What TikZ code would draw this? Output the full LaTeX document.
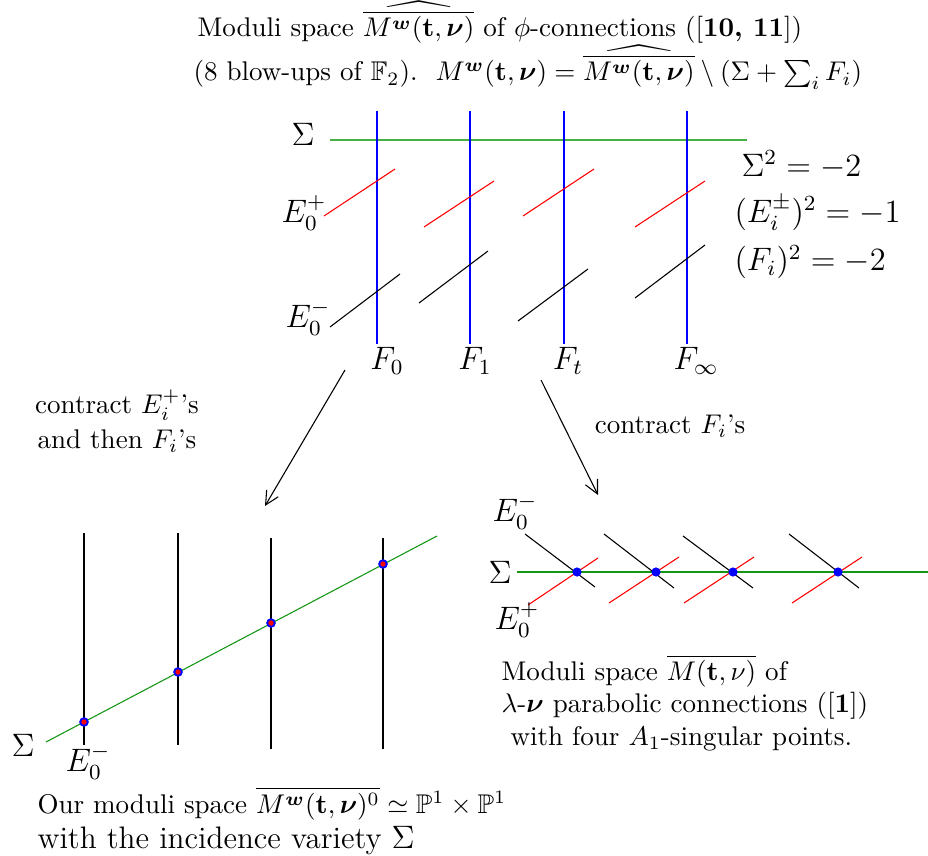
\documentclass[tikz,border=0pt]{standalone}
\usepackage{amsmath,amssymb}
\usepackage{tikz}
\usetikzlibrary{arrows.meta}
\usepackage{xcolor}
\definecolor{sigmagreen}{RGB}{70,175,70}
\definecolor{curvegreen}{RGB}{20,150,20}

\newcommand{\Mwt}{M^{\boldsymbol{w}}(\mathbf{t},\boldsymbol{\nu})}

\begin{document}
\begin{tikzpicture}[x=0.37pt, y=-0.37pt, >={Straight Barb[length=5pt,width=5pt]}, every node/.style={inner sep=0pt}]
\useasboundingbox (0,0) rectangle (928,856);
% header
\node[anchor=base west] (head1) at (197,37) {Moduli space $\widehat{\overline{\Mwt}}$ of $\phi$-connections ([\textbf{10, 11}])};
\node[anchor=base west] (head2) at (193,81) {(8 blow-ups of $\mathbb{F}_2$).\ \ $\Mwt=\widehat{\overline{\Mwt}}\setminus(\Sigma+\sum_i F_i)$};

% the blown-up surface
\draw[sigmagreen, semithick] (330,140) -- (747,140);
\draw[blue] (377,111) -- (377,344);
\draw[blue] (470,111) -- (470,344);
\draw[blue] (564,111) -- (564,344);
\draw[blue] (687,111) -- (687,344);
\draw[red] (324,216) -- (395,169);
\draw[red] (424,227) -- (494,181);
\draw[red] (523,216) -- (594,169);
\draw[red] (635,227) -- (705,181);
\draw (330,327) -- (400,274);
\draw (419,303) -- (488,251);
\draw (518,321) -- (588,269);
\draw (635,298) -- (705,245);
\node[font=\large] (sig) at (303,134) {$\Sigma$};
\node[font=\large] (ep) at (304,213) {$E_0^+$};
\node[font=\large] (em) at (308,318) {$E_0^-$};
\node[font=\large] (f0) at (387,361) {$F_0$};
\node[font=\large] (f1) at (475,361) {$F_1$};
\node[font=\large] (ft) at (568,361) {$F_t$};
\node[font=\large] (finf) at (696,361) {$F_\infty$};
\node[font=\large, anchor=west] (sq1) at (741,165) {$\Sigma^2=-2$};
\node[font=\large, anchor=west] (sq2) at (734,213) {$(E_i^{\pm})^2=-1$};
\node[font=\large, anchor=west] (sq3) at (734,262) {$(F_i)^2=-2$};

% contractions
\coordinate (lfrom) at (345,370);
\coordinate (lto) at (265,506);
\coordinate (rfrom) at (541,380);
\coordinate (rto) at (598,495);
\draw[->] (lfrom) -- (lto);
\draw[->] (rfrom) -- (rto);
\node[align=center] (contrl) at (117,421) {contract $E_i^+$'s\\[1pt] and then $F_i$'s};
\node (contrr) at (670,426) {contract $F_i$'s};

% P^1 x P^1
\draw (84,533) -- (84,745);
\draw (178,533) -- (178,745);
\draw (271,538) -- (271,749);
\draw (383,538) -- (383,749);
\draw[curvegreen] (46,742) -- (437,536);
\filldraw[fill=red, draw=blue, line width=0.7pt] (84,722) circle (3.8);
\filldraw[fill=red, draw=blue, line width=0.7pt] (178,672) circle (3.8);
\filldraw[fill=red, draw=blue, line width=0.7pt] (271,623) circle (3.8);
\filldraw[fill=red, draw=blue, line width=0.7pt] (383,564) circle (3.8);
\node[font=\large] (sigl) at (23,745) {$\Sigma$};
\node[font=\large] (eml) at (88,762) {$E_0^-$};
\node[anchor=base west] (our1) at (37,813) {Our moduli space $\overline{\Mwt^0}\simeq\mathbb{P}^1\times\mathbb{P}^1$};
\node[anchor=base west, font=\fontsize{11.5}{14}\selectfont] (our2) at (37,848) {with the incidence variety $\Sigma$};

% A_1 singularities
\draw[curvegreen] (517,572) -- (928,572);
\draw (525,534) -- (595,587);
\draw (604,534) -- (674,588);
\draw (683,536) -- (753,588);
\draw (789,534) -- (859,588);
\draw[red] (528,605) -- (598,558);
\draw[red] (609,603) -- (679,557);
\draw[red] (684,603) -- (754,557);
\draw[red] (792,603) -- (862,557);
\fill[blue] (577,572) circle (4.6);
\fill[blue] (656,572) circle (4.6);
\fill[blue] (733,572) circle (4.6);
\fill[blue] (838,572) circle (4.6);
\node[font=\large] (emr) at (515,512) {$E_0^-$};
\node[font=\large] (sigr) at (500,572) {$\Sigma$};
\node[font=\large] (epr) at (517,620) {$E_0^+$};
\node[anchor=north west, align=left] (modr) at (501,654) {Moduli space $\overline{M(\mathbf{t},\nu)}$ of\\ $\lambda$-$\boldsymbol{\nu}$ parabolic connections ([\textbf{1}])\\ \ with four $A_1$-singular points.};
\end{tikzpicture}
\end{document}
